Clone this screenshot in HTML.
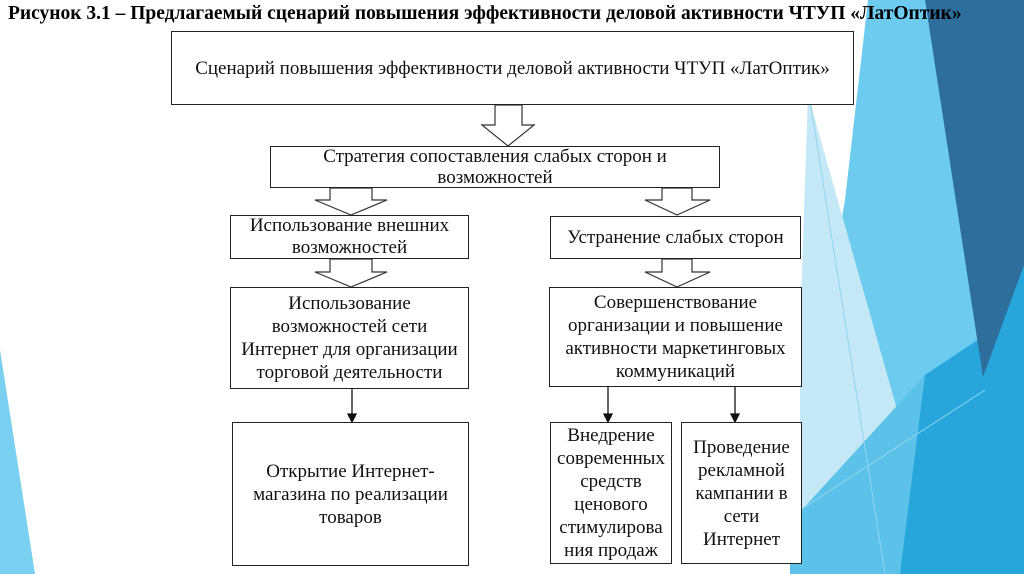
<!DOCTYPE html>
<html><head><meta charset="utf-8"><style>
body{margin:0;width:1024px;height:574px;overflow:hidden;background:#fff;position:relative;font-family:"Liberation Serif","Noto Serif CJK SC",serif;}
svg.bg{position:absolute;left:0;top:0}
.t{position:absolute;left:8px;top:3px;font-weight:bold;font-size:19.5px;white-space:nowrap}
.b{position:absolute;border:1.5px solid #222;background:#fff;box-sizing:border-box;display:flex;align-items:center;justify-content:center;text-align:center;font-size:19px;line-height:23px;color:#111}
</style></head><body>
<svg class="bg" width="1024" height="574">
<polygon points="868,0 925,0 1024,574 790,574 790,520 845,200" fill="#6dcbef"/>
<polygon points="808,95 900,420 800,520 800,330" fill="#c4e8f6"/>
<polygon points="800,512 925,375 945,574 790,574 790,520" fill="#5cc2ea"/>
<polygon points="925,375 985,335 1024,260 1024,574 900,574" fill="#27a6db"/>
<polygon points="925,0 1024,0 1024,265 983,377" fill="#2d6e9d"/>
<line x1="810" y1="100" x2="885" y2="574" stroke="#8fd4f0" stroke-width="1"/>
<line x1="800" y1="510" x2="985" y2="390" stroke="#8fd4f0" stroke-width="1"/>
<polygon points="0,350 35,574 0,574" fill="#7ad0f0"/>
<g fill="#fff" stroke="#333" stroke-width="1.2">
<polygon points="495,105 522,105 522,125 534,125 508,146 482,125 495,125"/>
<polygon points="330,188 372,188 372,200 387,200 351,215 315,200 330,200"/>
<polygon points="662,188 692,188 692,200 710,200 677,215 645,200 662,200"/>
<polygon points="330,259 372,259 372,272 387,272 351,287 315,272 330,272"/>
<polygon points="662,259 692,259 692,272 710,272 677,287 645,272 662,272"/>
</g>
<g stroke="#111" stroke-width="1.3" fill="#111">
<line x1="352" y1="388" x2="352" y2="416"/><polygon points="348,414 356,414 352,422"/>
<line x1="608" y1="386" x2="608" y2="416"/><polygon points="604,414 612,414 608,422"/>
<line x1="735" y1="386" x2="735" y2="416"/><polygon points="731,414 739,414 735,422"/>
</g>
</svg>
<div class="t">Рисунок 3.1 – Предлагаемый сценарий повышения эффективности деловой активности ЧТУП «ЛатОптик»</div>
<div class="b" style="left:171px;top:31px;width:683px;height:74px">Сценарий повышения эффективности деловой активности ЧТУП «ЛатОптик»</div>
<div class="b" style="left:270px;top:146px;width:450px;height:42px;line-height:21px">Стратегия сопоставления слабых сторон и<br>возможностей</div>
<div class="b" style="left:230px;top:215px;width:239px;height:44px;line-height:22px">Использование внешних<br>возможностей</div>
<div class="b" style="left:550px;top:216px;width:251px;height:43px">Устранение слабых сторон</div>
<div class="b" style="left:230px;top:287px;width:239px;height:102px">Использование<br>возможностей сети<br>Интернет для организации<br>торговой деятельности</div>
<div class="b" style="left:549px;top:287px;width:253px;height:100px">Совершенствование<br>организации и повышение<br>активности маркетинговых<br>коммуникаций</div>
<div class="b" style="left:232px;top:422px;width:237px;height:144px">Открытие Интернет-<br>магазина по реализации<br>товаров</div>
<div class="b" style="left:550px;top:422px;width:122px;height:142px">Внедрение<br>современных<br>средств<br>ценового<br>стимулирова<br>ния продаж</div>
<div class="b" style="left:681px;top:422px;width:121px;height:142px">Проведение<br>рекламной<br>кампании в<br>сети<br>Интернет</div>
</body></html>
